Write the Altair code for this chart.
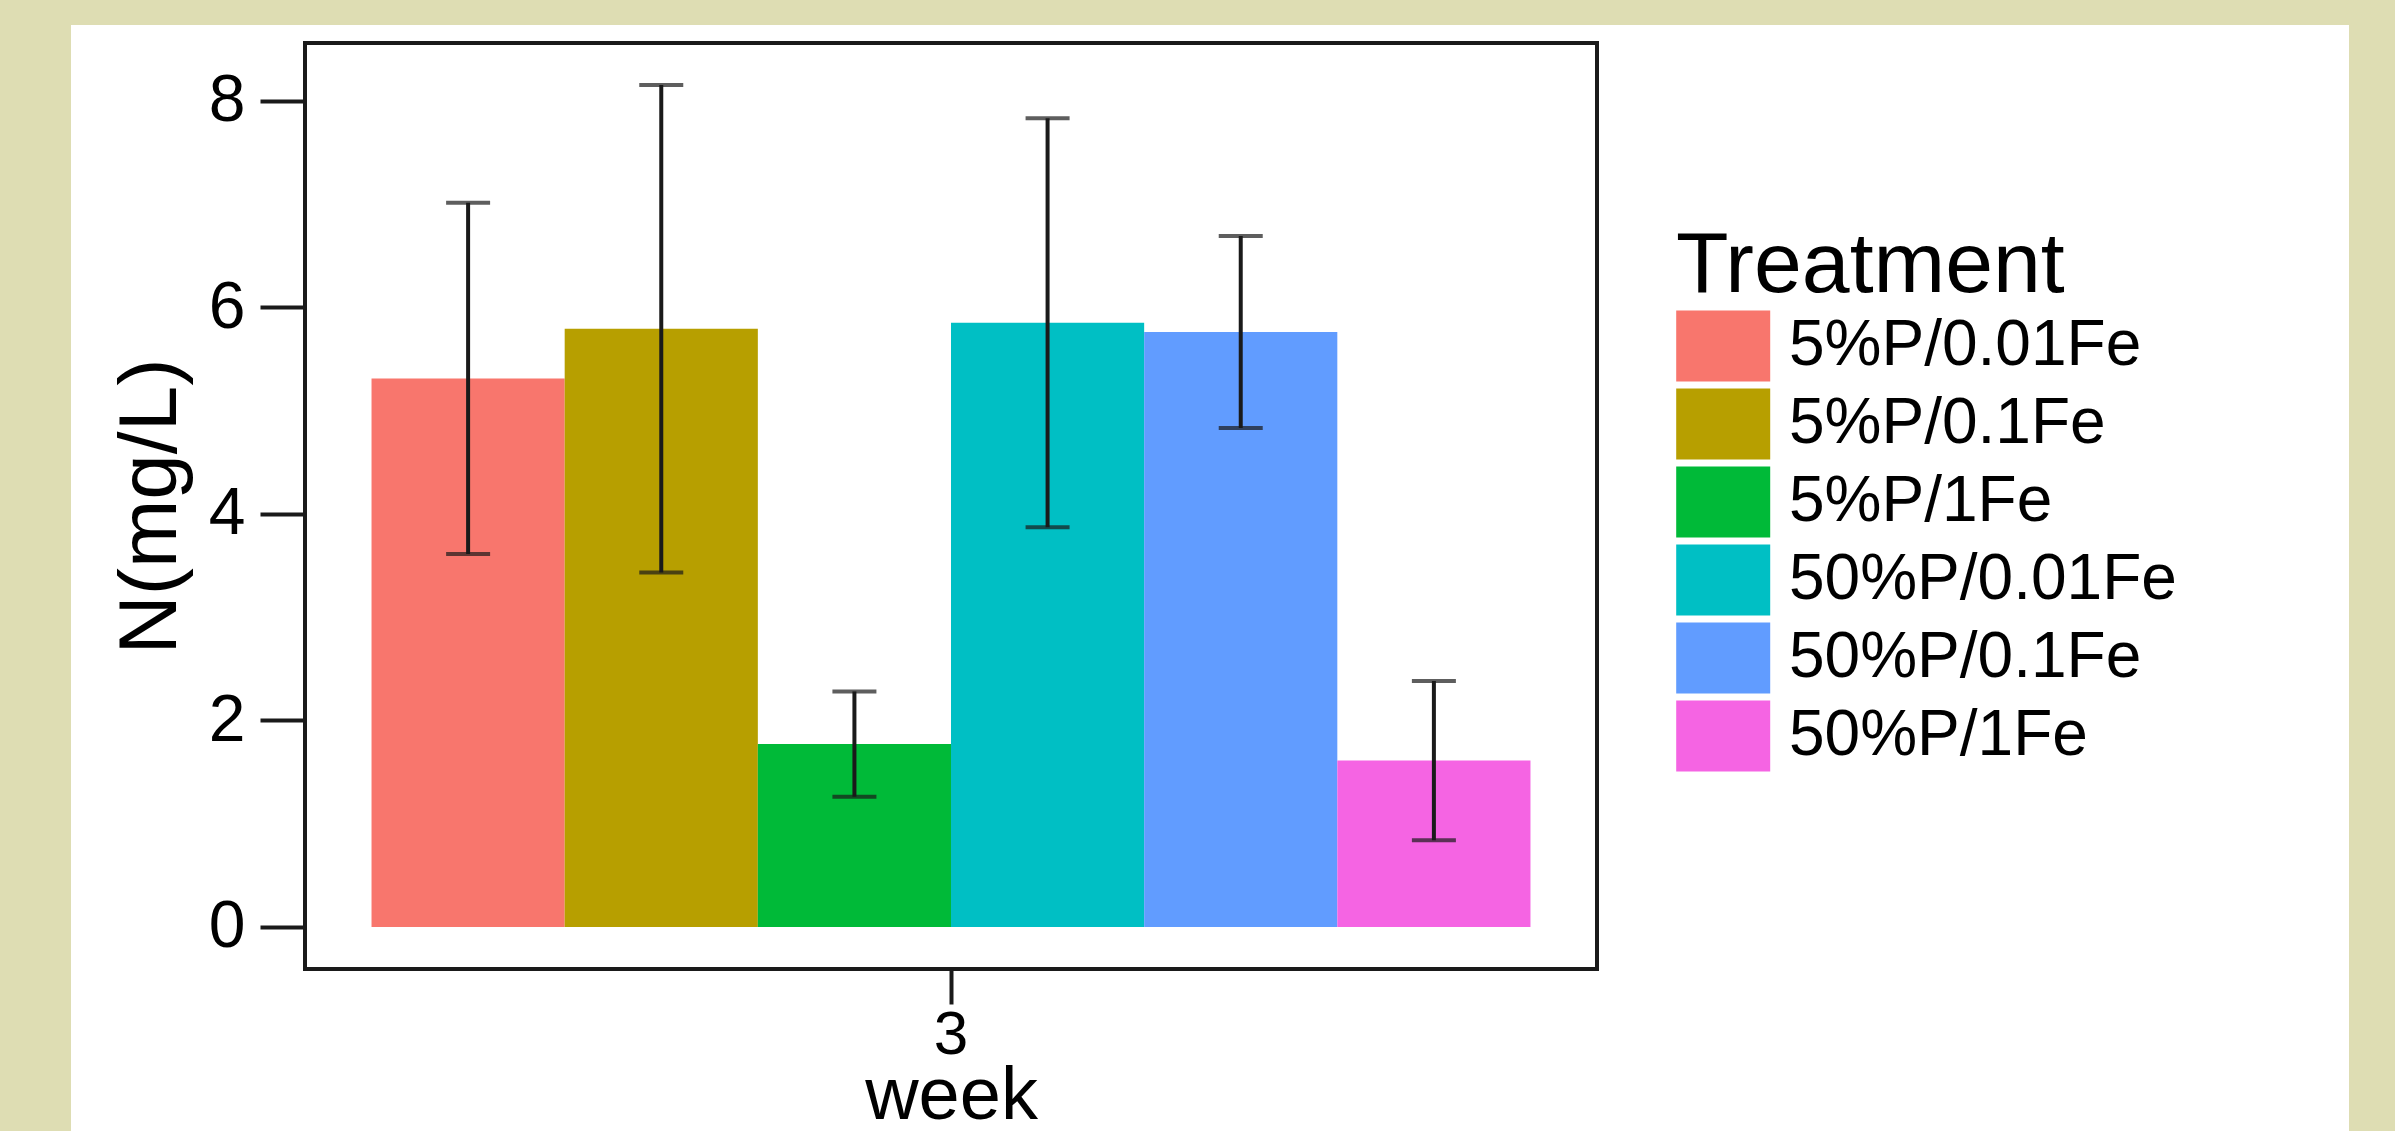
import altair as alt
import pandas as pd

# Nitrogen concentration at week 3, by treatment (mean and error)
week = "3"
treatments = ["5%P/0.01Fe", "5%P/0.1Fe", "5%P/1Fe",
              "50%P/0.01Fe", "50%P/0.1Fe", "50%P/1Fe"]
means = [5.31, 5.79, 1.77, 5.85, 5.76, 1.61]
errors = [1.70, 2.36, 0.51, 1.98, 0.93, 0.77]
palette = ["#F8766D", "#B79F00", "#00BA38", "#00BFC4", "#619CFF", "#F564E3"]
y_ticks = [0, 2, 4, 6, 8]

df = pd.DataFrame({
    "week": [week] * len(treatments),
    "Treatment": treatments,
    "N": means,
    "err": errors,
})
df["lo"] = df["N"] - df["err"]
df["hi"] = df["N"] + df["err"]

# ggplot-style 5% expansion of the data range
y_min = min(0.0, df["lo"].min())
y_max = df["hi"].max()
pad = 0.05 * (y_max - y_min)
y_domain = [y_min - pad, y_max + pad]

FONT = "Liberation Sans"
W, H = 1292, 926
INK = "#1a1a1a"

x_enc = alt.X("week:N", title="week",
              scale=alt.Scale(paddingInner=0, paddingOuter=0.0574),
              axis=alt.Axis(labelAngle=0, grid=False, domain=False,
                            tickSize=35, tickWidth=4, tickColor=INK,
                            labelFont=FONT, labelFontSize=62, labelColor="black",
                            labelPadding=0,
                            titleFont=FONT, titleFontSize=74, titleFontWeight="normal",
                            titleColor="black", titleY=149, titleBaseline="alphabetic",
                            zindex=1))
xo_enc = alt.XOffset("Treatment:N", sort=treatments,
                     scale=alt.Scale(paddingInner=0, paddingOuter=0))
y_scale = alt.Scale(domain=y_domain, nice=False, zero=False)

panel = alt.Chart(pd.DataFrame({"k": [0]})).mark_rect(
    fill="white", strokeWidth=0
).encode(
    x=alt.value(-234), x2=alt.value(2044),
    y=alt.value(-18), y2=alt.value(1088),
)

# legend swatch: a wide rectangle (about 4:3), left edge on the legend origin
swatch = "M-1,-0.849H1.249V0.849H-1Z"

bars = alt.Chart(df).mark_bar().encode(
    x=x_enc,
    xOffset=xo_enc,
    y=alt.Y("N:Q", scale=y_scale,
            axis=alt.Axis(values=y_ticks, format="d", title="N(mg/L)",
                          grid=False, domain=False,
                          tickSize=45, tickWidth=4, tickColor=INK,
                          labelFont=FONT, labelFontSize=66, labelColor="black",
                          labelPadding=15,
                          titleFont=FONT, titleFontSize=82, titleFontWeight="normal",
                          titleColor="black", titleAngle=270, titleAlign="center",
                          titleBaseline="alphabetic", titleX=-130, titleY=H / 2,
                          zindex=1)),
    y2=alt.datum(0),
    fill=alt.Fill("Treatment:N", sort=treatments,
                  scale=alt.Scale(domain=treatments, range=palette),
                  legend=alt.Legend(title="Treatment", orient="none",
                                    legendX=1371, legendY=181,
                                    symbolType=swatch,
                                    symbolSize=6989, symbolStrokeWidth=0,
                                    symbolOpacity=1,
                                    labelFont=FONT, labelFontSize=64,
                                    labelColor="black", labelOffset=29,
                                    labelLimit=0,
                                    titleFont=FONT, titleFontSize=86,
                                    titleFontWeight="normal", titleColor="black",
                                    titleLimit=1000,
                                    titlePadding=-6, rowPadding=0, padding=0,
                                    zindex=1)),
)

whiskers = alt.Chart(df).mark_rule(color=INK, strokeWidth=4).encode(
    x=alt.X("week:N"),
    xOffset=alt.XOffset("Treatment:N", sort=treatments),
    y=alt.Y("lo:Q", scale=y_scale),
    y2="hi:Q",
)

caps_hi = alt.Chart(df).mark_tick(color=INK, size=44, thickness=4, orient="horizontal").encode(
    x=alt.X("week:N"),
    xOffset=alt.XOffset("Treatment:N", sort=treatments),
    y=alt.Y("hi:Q", scale=y_scale),
)
caps_lo = alt.Chart(df).mark_tick(color=INK, size=44, thickness=4, orient="horizontal").encode(
    x=alt.X("week:N"),
    xOffset=alt.XOffset("Treatment:N", sort=treatments),
    y=alt.Y("lo:Q", scale=y_scale),
)

frame = alt.Chart(pd.DataFrame({"k": [0]})).mark_rect(
    fill="transparent", stroke=INK, strokeWidth=4
).encode(
    x=alt.value(0), x2=alt.value(W),
    y=alt.value(0), y2=alt.value(H),
)

chart = alt.layer(panel, bars, whiskers, caps_hi, caps_lo, frame).properties(
    width=W, height=H,
    background="#DEDDB3",
    padding={"left": 71, "top": 25, "right": 46, "bottom": 0},
).configure_view(stroke="transparent")

chart.save("out.html", embed_options={"renderer": "svg", "actions": False})
